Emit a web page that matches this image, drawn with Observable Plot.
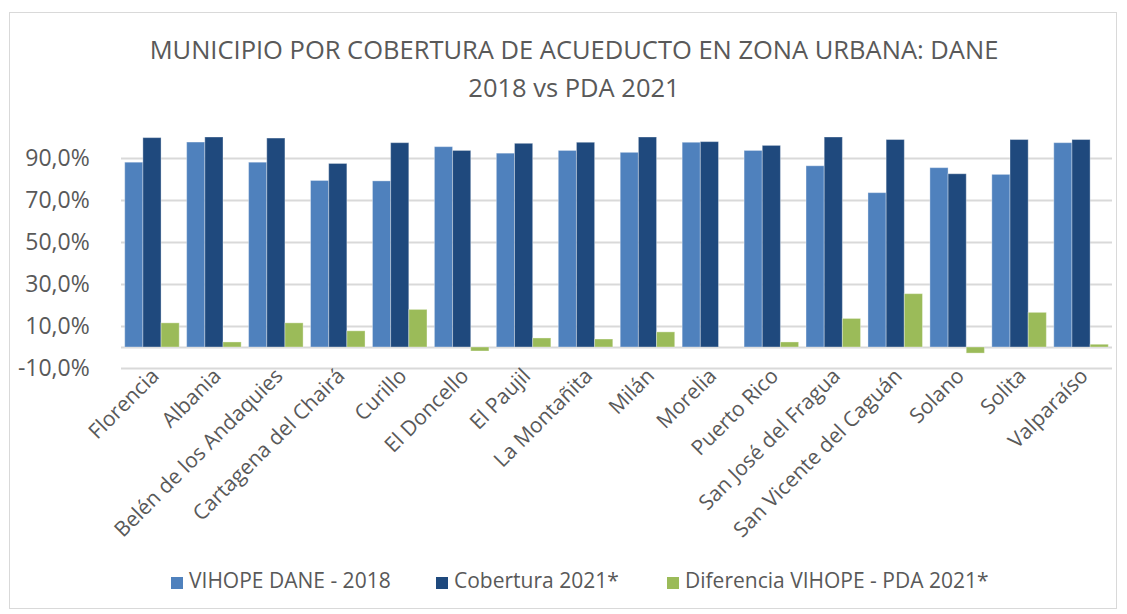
<!DOCTYPE html>
<html>
<head>
<meta charset="utf-8">
<script src="https://cdn.jsdelivr.net/npm/d3@7"></script>
<script src="https://cdn.jsdelivr.net/npm/@observablehq/plot@0.6"></script>
<style>
  html, body { margin: 0; padding: 0; background: #ffffff; }
  #chart { position: relative; width: 1127px; height: 614px; font-family: "Open Sans", sans-serif; color: #595959; overflow: hidden; }
  #frame { position: absolute; left: 9px; top: 12px; width: 1108px; height: 597px; border: 1px solid #d9d9d9; box-sizing: border-box; }
  #title { position: absolute; left: 0; top: 30px; width: 1148px; text-align: center; font-size: 25.5px; line-height: 38px; color: #595959; }
  #grid, #plot { position: absolute; left: 0; top: 120px; }
  #legend { position: absolute; top: 565px; left: 0; width: 1127px; height: 30px; }
  .item { position: absolute; top: 0; font-size: 21px; line-height: 30px; white-space: nowrap; }
  .sw { display: inline-block; width: 12px; height: 12px; margin-right: 6px; vertical-align: -1px; }
</style>
</head>
<body>
<div id="chart">
  <div id="frame"></div>
  <div id="title">MUNICIPIO POR COBERTURA DE ACUEDUCTO EN ZONA URBANA: DANE<br>2018 vs PDA 2021</div>
  <div id="grid"></div>
  <div id="plot"></div>
  <div id="legend"></div>
</div>
<script>
const municipios = ["Florencia","Albania","Belén de los Andaquies","Cartagena del Chairá","Curillo","El Doncello","El Paujil","La Montañita","Milán","Morelia","Puerto Rico","San José del Fragua","San Vicente del Caguán","Solano","Solita","Valparaíso"];
const series = ["VIHOPE DANE - 2018","Cobertura 2021*","Diferencia VIHOPE - PDA 2021*"];
const vihope = [88.0, 97.6, 88.0, 79.3, 79.1, 95.4, 92.3, 93.6, 92.7, 97.5, 93.6, 86.3, 73.5, 85.4, 82.2, 97.3];
const cobertura = [99.7, 100.0, 99.5, 87.4, 97.3, 93.6, 97.0, 97.5, 100.0, 97.8, 96.0, 100.0, 98.8, 82.5, 98.8, 98.8];
const diferencia = [11.5, 2.4, 11.5, 7.7, 17.9, -1.9, 4.3, 3.8, 7.2, 0.0, 2.4, 13.6, 25.4, -2.9, 16.5, 1.3];
const yTicks = [-10, 10, 30, 50, 70, 90];
const colors = ["#4f81bd", "#1f497d", "#9bbb59"];

const valuesBySeries = [vihope, cobertura, diferencia];
const data = municipios.flatMap((m, i) => series.map((s, j) => ({municipio: m, serie: s, valor: valuesBySeries[j][i]})));
const fmt = d => d.toFixed(1).replace(".", ",") + "%";

const common = {
  width: 1127,
  height: 430,
  marginLeft: 121,
  marginRight: 15,
  marginTop: 17,
  marginBottom: 182,
  style: {fontFamily: "Open Sans, sans-serif", color: "#595959", background: "transparent", overflow: "visible"},
  y: {domain: [-10, 100], axis: null}
};

const grid = Plot.plot({
  ...common,
  x: {axis: null},
  marks: [
    Plot.ruleY(yTicks, {stroke: "#d9d9d9", strokeWidth: 2}),
    Plot.ruleY([0], {stroke: "#d9d9d9", strokeWidth: 2})
  ]
});
document.getElementById("grid").appendChild(grid);

const chart = Plot.plot({
  ...common,
  fx: {domain: municipios, paddingInner: 0.12, paddingOuter: 0.06, round: false, label: null},
  x: {domain: series, padding: 0, round: false, axis: null},
  color: {domain: series, range: colors},
  marks: [
    Plot.barY(data, {fx: "municipio", x: "serie", y: "valor", fill: "serie", stroke: "#ffffff", strokeOpacity: 0.35, strokeWidth: 1}),
    Plot.axisY({ticks: yTicks, tickFormat: fmt, tickSize: 0, tickPadding: 35.5, fontSize: 23, fill: "#595959", label: null}),
    Plot.axisFx({anchor: "bottom", tickRotate: -45, tickSize: 0, tickPadding: 4, dx: 3, fontSize: 21, fill: "#595959", label: null})
  ]
});
document.getElementById("plot").appendChild(chart);

const legend = document.getElementById("legend");
const lefts = [171, 436, 667];
series.forEach((s, i) => {
  const it = document.createElement("div");
  it.className = "item";
  it.style.left = lefts[i] + "px";
  const sw = document.createElement("span");
  sw.className = "sw";
  sw.style.background = colors[i];
  it.appendChild(sw);
  it.appendChild(document.createTextNode(s));
  legend.appendChild(it);
});
</script>
</body>
</html>
